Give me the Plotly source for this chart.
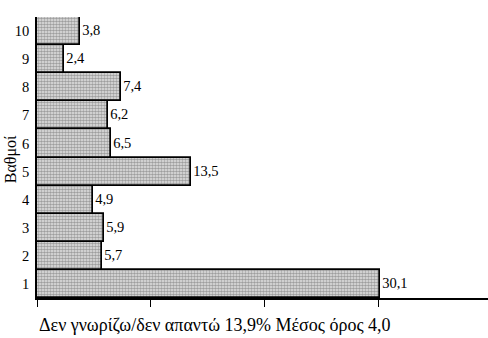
import plotly.graph_objects as go

# Score categories (1 = lowest, 10 = highest) and percentage of respondents
grades = ["1", "2", "3", "4", "5", "6", "7", "8", "9", "10"]
percent = [30.1, 5.7, 5.9, 4.9, 13.5, 6.5, 6.2, 7.4, 2.4, 3.8]
x_ticks = [0, 10, 20, 30]

dont_know = "13,9%"
mean_score = "4,0"

labels = [f"{v:.1f}".replace(".", ",") for v in percent]

serif = "Liberation Serif"

fig = go.Figure(
    go.Bar(
        y=grades,
        x=percent,
        orientation="h",
        text=labels,
        textposition="outside",
        cliponaxis=False,
        textfont=dict(family=serif, size=14.5, color="black"),
        marker=dict(
            color="#c4c4c4",
            line=dict(color="black", width=1.7),
            pattern=dict(shape=".", fgcolor="#555555", bgcolor="#e6e6e6",
                         size=3, solidity=0.6),
        ),
        showlegend=False,
    )
)

fig.update_layout(
    width=488,
    height=338,
    margin=dict(l=37, r=0, t=17, b=40),
    plot_bgcolor="white",
    paper_bgcolor="white",
    bargap=0,
    font=dict(family=serif, size=14.5, color="black"),
    xaxis=dict(
        range=[0, 39.6],
        tickvals=x_ticks,
        showticklabels=False,
        ticks="outside",
        ticklen=7,
        tickwidth=1.3,
        tickcolor="black",
        showline=True,
        linecolor="black",
        linewidth=1.5,
        showgrid=False,
        zeroline=False,
    ),
    yaxis=dict(
        type="category",
        categoryorder="array",
        categoryarray=grades,
        range=[-0.5, 9.5],
        showline=True,
        linecolor="black",
        linewidth=1.5,
        showgrid=False,
        ticks="",
        ticklabelstandoff=3,
        tickfont=dict(family=serif, size=14.5, color="black"),
    ),
    annotations=[
        dict(
            text="Βαθμοί",
            textangle=-90,
            xref="paper", yref="paper",
            x=-0.057, y=0.495,
            xanchor="center", yanchor="middle",
            showarrow=False,
            font=dict(family=serif, size=16, color="black"),
        ),
        dict(
            text=f"Δεν γνωρίζω/δεν απαντώ {dont_know} Μέσος όρος {mean_score}",
            xref="paper", yref="paper",
            x=0.0, y=-0.096,
            xanchor="left", yanchor="middle",
            showarrow=False,
            font=dict(family=serif, size=18, color="black"),
        ),
    ],
)

fig.write_html("out.html")
